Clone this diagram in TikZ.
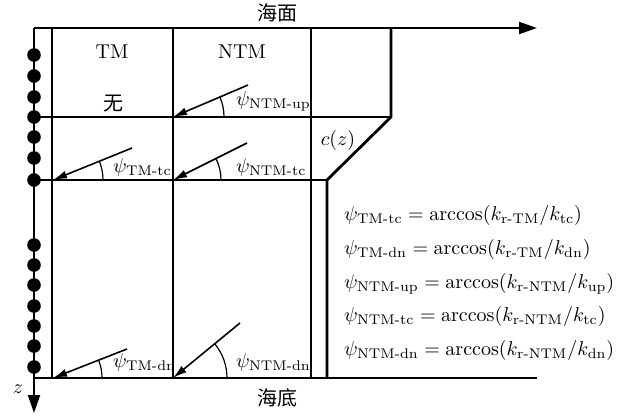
\documentclass[tikz,border=0pt]{standalone}
\usepackage{amsmath}
\usepackage{fontspec}
\newfontfamily\cjk{Noto Sans CJK SC}
\usetikzlibrary{arrows.meta}

\begin{document}
\begin{tikzpicture}[x=0.5pt, y=-0.5pt,
  grid/.style={line width=0.65pt},
  axis/.style={line width=1pt, -{Triangle[length=9pt, width=6pt]}},
  ray/.style={line width=0.8pt, -{Latex[length=7pt, width=4pt]}},
  ang/.style={line width=0.6pt}]
  \useasboundingbox (0,0) rectangle (619,418);
  \def\top{28}\def\bot{378}
  % grid of the two mode columns
  \draw[grid] (52,\top) -- (52,\bot);
  \draw[grid] (173,\top) -- (173,\bot);
  \draw[grid] (311,\top) -- (311,\bot);
  \draw[grid] (34,117) -- (392,117);
  \draw[grid] (34,180) -- (327,180);
  % sound speed profile
  \draw[line width=1.4pt] (391,\top) -- (391,117) -- (327,180) -- (327,\bot);
  % axes
  \draw[axis] (34,\top) -- (537,\top);
  \draw[line width=1pt] (34,\bot) -- (537,\bot);
  \draw[axis] (34,\top) -- (34,413);
  \foreach \y in {55,76,97,117,137,158,180,245,265,285,306,326,346,367}
    \fill (34,\y) circle[radius=6.8];
  \node (surf) at (277,13) {\cjk 海面};
  \node (seabed) at (277,398) {\cjk 海底};
  \node (zlab) at (18,389) {$z$};
  \node (cz) at (338,140) {$c(z)$};
  \node (tm) at (112,52) {TM};
  \node (ntm) at (242,52) {NTM};
  \node (none) at (113,104) {\cjk 无};
  % 1. NTM-up
  \coordinate (upA) at (248,85); \coordinate (upB) at (173,117);
  \draw[ray] (upA) -- (upB);
  \draw[ang] (224,117) arc[start angle=0, end angle=-23, radius=51];
  \node[anchor=west] (lupN) at (229,101) {$\psi_{\text{NTM-up}}$};
  % 2. TM-tc
  \coordinate (tcA) at (132,148); \coordinate (tcB) at (53,180);
  \draw[ray] (tcA) -- (tcB);
  \draw[ang] (103,180) arc[start angle=0, end angle=-22, radius=50];
  \node[anchor=west] (ltcT) at (106,167) {$\psi_{\text{TM-tc}}$};
  % 3. NTM-tc
  \coordinate (tcC) at (247,143); \coordinate (tcD) at (173,180);
  \draw[ray] (tcC) -- (tcD);
  \draw[ang] (221,180) arc[start angle=0, end angle=-27, radius=48];
  \node[anchor=west] (ltcN) at (229,167) {$\psi_{\text{NTM-tc}}$};
  % 4. TM-dn
  \coordinate (dnA) at (127,349); \coordinate (dnB) at (53,\bot);
  \draw[ray] (dnA) -- (dnB);
  \draw[ang] (102,\bot) arc[start angle=0, end angle=-21, radius=49];
  \node[anchor=west] (ldnT) at (106,362) {$\psi_{\text{TM-dn}}$};
  % 5. NTM-dn
  \coordinate (dnC) at (240,323); \coordinate (dnD) at (173,\bot);
  \draw[ray] (dnC) -- (dnD);
  \draw[ang] (227,\bot) arc[start angle=0, end angle=-40, radius=54];
  \node[anchor=west] (ldnN) at (229,362) {$\psi_{\text{NTM-dn}}$};
  % formulas
  \node[anchor=base west] (f1) at (337,220) {$\psi_{\text{TM-tc}}=\arccos(k_{\text{r-TM}}/k_{\text{tc}})$};
  \node[anchor=base west] (f2) at (337,254) {$\psi_{\text{TM-dn}}=\arccos(k_{\text{r-TM}}/k_{\text{dn}})$};
  \node[anchor=base west] (f3) at (337,288) {$\psi_{\text{NTM-up}}=\arccos(k_{\text{r-NTM}}/k_{\text{up}})$};
  \node[anchor=base west] (f4) at (337,321) {$\psi_{\text{NTM-tc}}=\arccos(k_{\text{r-NTM}}/k_{\text{tc}})$};
  \node[anchor=base west] (f5) at (337,355) {$\psi_{\text{NTM-dn}}=\arccos(k_{\text{r-NTM}}/k_{\text{dn}})$};
\end{tikzpicture}
\end{document}
